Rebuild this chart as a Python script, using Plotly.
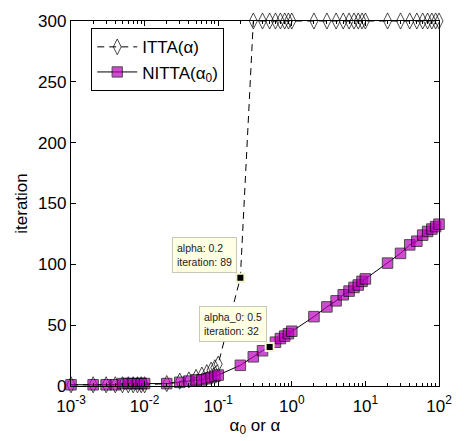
import math
import plotly.graph_objects as go

# ---- data ----
alpha = [0.001, 0.002, 0.003, 0.004, 0.005, 0.006, 0.007, 0.008, 0.009,
         0.01, 0.02, 0.03, 0.04, 0.05, 0.06, 0.07, 0.08, 0.09,
         0.1, 0.2, 0.3, 0.4, 0.5, 0.6, 0.7, 0.8, 0.9,
         1, 2, 3, 4, 5, 6, 7, 8, 9,
         10, 20, 30, 40, 50, 60, 70, 80, 90,
         100]

itta = [1, 1, 1, 1, 1, 1, 1, 1, 1,
        1, 2, 4, 5, 7, 9, 11, 13, 15,
        18, 89, 300, 300, 300, 300, 300, 300, 300,
        300, 300, 300, 300, 300, 300, 300, 300, 300,
        300, 300, 300, 300, 300, 300, 300, 300, 300,
        300]

nitta = [1, 1, 1, 1, 2, 2, 2, 2, 2,
         2, 2, 3, 4, 5, 5, 6, 7, 8,
         9, 17, 24, 29, 32, 36, 39, 41, 43,
         45, 57, 65, 70, 75, 78, 81, 83, 86,
         88, 101, 109, 116, 119, 124, 127, 129, 131,
         133]

# data tips
tip_itta_alpha = 0.2
tip_nitta_alpha = 0.5

x_tickvals = [0.001, 0.01, 0.1, 1, 10, 100]
x_ticktext = ["10<sup>-3</sup>", "10<sup>-2</sup>", "10<sup>-1</sup>",
              "10<sup>0</sup>", "10<sup>1</sup>", "10<sup>2</sup>"]
y_tickvals = [0, 50, 100, 150, 200, 250, 300]

FONT = "Liberation Sans, Arial, Helvetica, sans-serif"
MAG = "#bb00bb"

i_tip = alpha.index(tip_itta_alpha)
n_tip = alpha.index(tip_nitta_alpha)

fig = go.Figure()

fig.add_trace(go.Scatter(
    x=alpha, y=itta, mode="lines+markers", name="ITTA(α)",
    line=dict(color="black", width=1, dash="7px,5px"),
    marker=dict(symbol="diamond-tall-open", color="black",
                size=[0 if i == i_tip else 11.5 for i in range(len(alpha))],
                line=dict(width=1, color="black")),
    cliponaxis=False,
))

fig.add_trace(go.Scatter(
    x=alpha, y=nitta, mode="lines+markers", name="NITTA(α<sub>0</sub>)",
    line=dict(color="black", width=1),
    marker=dict(symbol="square", color=MAG,
                size=[0 if i == n_tip else 10.5 for i in range(len(alpha))],
                line=dict(width=1, color="black")),
    cliponaxis=False,
))

# data tip markers
fig.add_trace(go.Scatter(
    x=[alpha[i_tip], alpha[n_tip]], y=[itta[i_tip], nitta[n_tip]],
    mode="markers", showlegend=False,
    marker=dict(symbol="square", color="black", size=8,
                line=dict(width=2, color="#f4f4cc")),
    cliponaxis=False,
))

tips = [
    (alpha[i_tip], itta[i_tip], f"alpha: {alpha[i_tip]}<br>iteration: {itta[i_tip]}"),
    (alpha[n_tip], nitta[n_tip], f"alpha_0: {alpha[n_tip]}<br>iteration: {nitta[n_tip]}"),
]
annotations = []
for xv, yv, txt in tips:
    annotations.append(dict(
        x=math.log10(xv), y=yv, xref="x", yref="y", text=txt,
        showarrow=False, xanchor="right", yanchor="bottom",
        xshift=-3, yshift=5, align="left",
        font=dict(family=FONT, size=10.5, color="#222222"),
        bgcolor="#ffffe4", bordercolor="#c8c8b8", borderwidth=1, borderpad=4,
    ))

fig.update_layout(
    width=464, height=441,
    margin=dict(l=71, r=18, t=12, b=55),
    paper_bgcolor="white", plot_bgcolor="white",
    font=dict(family=FONT, size=17, color="black"),
    showlegend=True,
    legend=dict(x=0.055, y=0.98, xanchor="left", yanchor="top",
                bgcolor="white", bordercolor="black", borderwidth=1,
                font=dict(family=FONT, size=17), itemwidth=40,
                tracegroupgap=0),
    annotations=annotations,
)

fig.update_xaxes(
    type="log", range=[-3, 2],
    tickvals=x_tickvals, ticktext=x_ticktext,
    ticks="inside", ticklen=5, tickwidth=1, tickcolor="black",
    minor=dict(ticks="inside", ticklen=3, tickcolor="black", dtick="D1", showgrid=False),
    showline=True, linecolor="black", linewidth=1.3, mirror="ticks",
    showgrid=False, zeroline=False,
    ticklabelstandoff=4,
    tickfont=dict(family=FONT, size=17),
    title=dict(text="α<sub>0</sub> or α", font=dict(family=FONT, size=17), standoff=2),
)
fig.update_yaxes(
    range=[0, 300], tickvals=y_tickvals,
    ticks="inside", ticklen=5, tickwidth=1, tickcolor="black",
    showline=True, linecolor="black", linewidth=1.3, mirror="ticks",
    showgrid=False, zeroline=False,
    tickfont=dict(family=FONT, size=17),
    title=dict(text="iteration", font=dict(family=FONT, size=17), standoff=6),
)

fig.write_html("out.html")
